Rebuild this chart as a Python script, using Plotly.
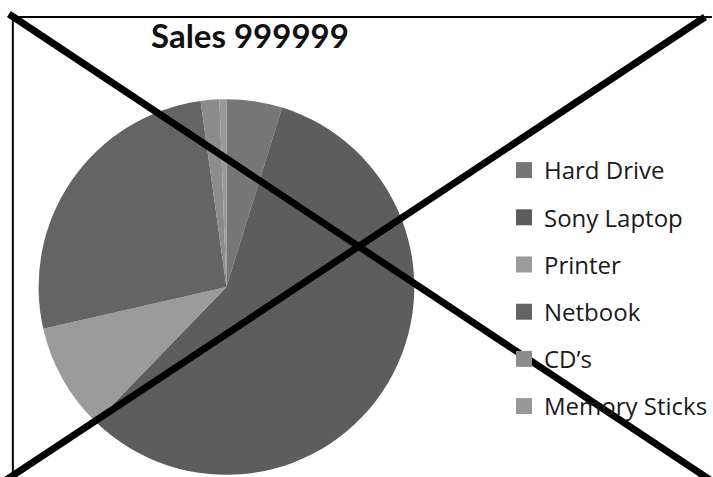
import plotly.graph_objects as go

W, H = 713, 477

categories = ["Hard Drive", "Sony Laptop", "Printer", "Netbook", "CD\u2019s", "Memory Sticks"]
values = [4.8, 57.5, 9.2, 26.4, 1.6, 0.6]
colors = ["#777777", "#5d5d5d", "#9b9b9b", "#646464", "#8c8c8c", "#989898"]
title_text = "Sales 999999"

def px(x):
    return x / W

def py(y):
    return 1 - y / H

fig = go.Figure()

# pie: centre (229, 287), radius ~190 px
cx, cy, r = 229, 287, 190
fig.add_trace(go.Pie(
    labels=categories, values=values, sort=False, direction="clockwise", rotation=0,
    marker=dict(colors=colors, line=dict(width=0)),
    textinfo="none", hoverinfo="label+value", showlegend=False,
    domain=dict(x=[px(cx - r), px(cx + r)], y=[max(0, py(cy + r)), py(cy - r)]),
))

# legend entries
for i, (c, col) in enumerate(zip(categories, colors)):
    fig.add_trace(go.Scatter(
        x=[None], y=[None], mode="markers", name=c, legendgroup=f"g{i}",
        marker=dict(symbol="square", size=16, color=col),
    ))

shapes = [
    # frame (top & left)
    dict(type="line", x0=px(13), y0=py(17), x1=px(720), y1=py(17), line=dict(color="black", width=2)),
    dict(type="line", x0=px(13), y0=py(17), x1=px(13), y1=py(485), line=dict(color="black", width=2)),
    # big X
    dict(type="line", x0=px(9), y0=py(14), x1=px(730), y1=py(14 + 721 * 0.657), line=dict(color="black", width=7)),
    dict(type="line", x0=px(713), y0=py(17), x1=px(5), y1=py(17 + 708 * 0.655), line=dict(color="black", width=7)),
]
for s in shapes:
    s["xref"] = "paper"; s["yref"] = "paper"; s["layer"] = "above"

fig.update_layout(
    width=W, height=H, margin=dict(l=0, r=0, t=0, b=0),
    paper_bgcolor="white", plot_bgcolor="white",
    xaxis=dict(visible=False), yaxis=dict(visible=False),
    showlegend=True,
    legend=dict(x=px(510), y=py(148), xanchor="left", yanchor="top",
                font=dict(family="Open Sans, sans-serif", size=24, color="#1a1a1a"),
                tracegroupgap=13, itemsizing="trace", bgcolor="rgba(0,0,0,0)"),
    shapes=shapes,
    annotations=[dict(text="<b>" + title_text + "</b>", x=px(253), y=py(35), xref="paper", yref="paper",
                      xanchor="center", yanchor="middle", showarrow=False,
                      font=dict(family="Lato, Open Sans, sans-serif", size=33, color="#111111"))],
)

fig.write_html("out.html")
